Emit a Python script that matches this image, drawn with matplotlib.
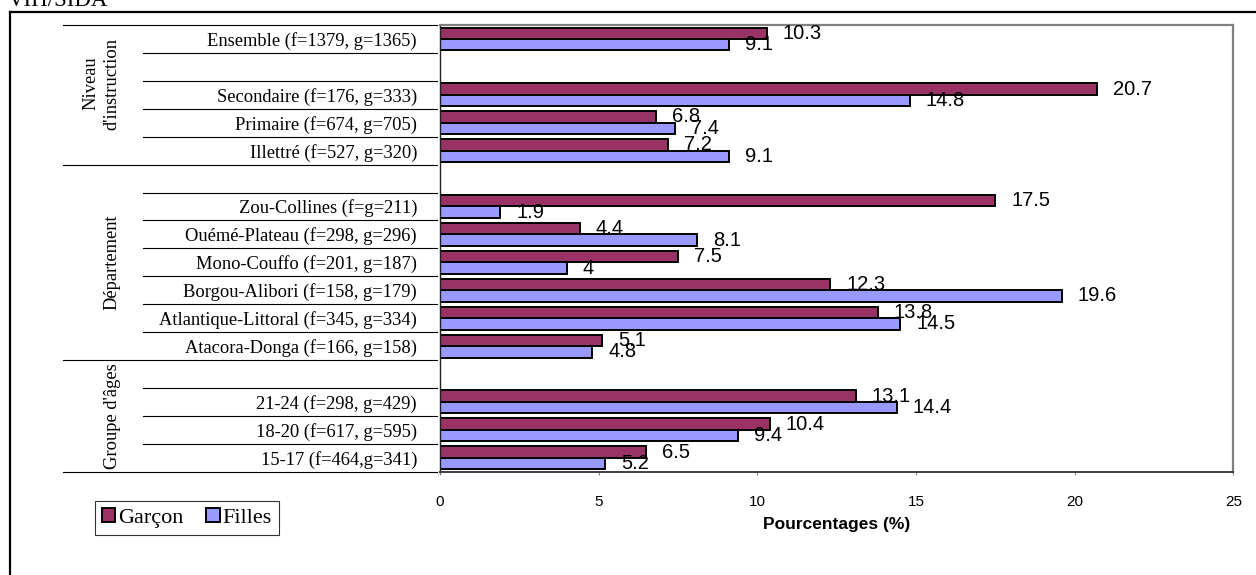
import matplotlib.pyplot as plt
import numpy as np
from matplotlib.patches import Patch
from matplotlib.lines import Line2D

# rows from top to bottom, '' = empty separator row
categories = ['Ensemble (f=1379, g=1365)', '', 'Secondaire (f=176, g=333)',
              'Primaire (f=674, g=705)', 'Illettré (f=527, g=320)', '',
              'Zou-Collines (f=g=211)', 'Ouémé-Plateau (f=298, g=296)',
              'Mono-Couffo (f=201, g=187)', 'Borgou-Alibori (f=158, g=179)',
              'Atlantique-Littoral (f=345, g=334)', 'Atacora-Donga (f=166, g=158)', '',
              '21-24 (f=298, g=429)', '18-20 (f=617, g=595)', '15-17 (f=464,g=341)']
garcon = [10.3, None, 20.7, 6.8, 7.2, None, 17.5, 4.4, 7.5, 12.3, 13.8, 5.1, None, 13.1, 10.4, 6.5]
filles = [9.1, None, 14.8, 7.4, 9.1, None, 1.9, 8.1, 4, 19.6, 14.5, 4.8, None, 14.4, 9.4, 5.2]
groups = ["Niveau\nd'instruction", 'Département', "Groupe d'âges"]
group_rows = [(0, 4), (5, 11), (12, 15)]  # first / last row of each group

W, H = 1256, 575
fig = plt.figure(figsize=(W / 100, H / 100), dpi=100)
ax = fig.add_axes([440 / W, 1 - 471.7 / H, 793.3 / W, 446.7 / H])

g = np.array([np.nan if v is None else v for v in garcon])
f = np.array([np.nan if v is None else v for v in filles])
y = np.arange(len(categories))
ok = ~np.isnan(g)

h = 0.41
bg = ax.barh(y[ok] - h / 2, g[ok], height=h, color='#993366', edgecolor='black', linewidth=1.4)
bf = ax.barh(y[ok] + h / 2, f[ok], height=h, color='#9999FF', edgecolor='black', linewidth=1.4)
for bars, vals in [(bg, g[ok]), (bf, f[ok])]:
    ax.bar_label(bars, labels=[f'{v:g}' for v in vals], padding=11.5,
                 fontsize=14.5, family='Liberation Sans')

ax.set_xlim(0, 25)
ax.set_ylim(len(categories) - 0.5, -0.5)
ax.set_xticks(np.arange(0, 26, 5))
ax.tick_params(axis='x', direction='out', length=2.5, pad=14, labelsize=11, color='#808080')
for t in ax.get_xticklabels():
    t.set_family('Liberation Sans')
ax.set_xlabel('Pourcentages (%)', fontsize=12.5, fontweight='bold', family='Liberation Sans', labelpad=6)

ax.set_yticks(y)
ax.set_yticklabels(categories, family='Liberation Serif', fontsize=13.3)
ax.tick_params(axis='y', length=0, pad=16.5)

for s in ['top', 'right']:
    ax.spines[s].set_color('#808080')
    ax.spines[s].set_linewidth(1.6)
ax.spines['left'].set_color('#202020')
ax.spines['left'].set_linewidth(1.0)
ax.spines['bottom'].set_color('#404040')
ax.spines['bottom'].set_linewidth(1.4)

# row separators and group brackets on the left
tr = ax.get_yaxis_transform()
starts = [a for a, b in group_rows]
for k in range(len(categories) + 1):
    long = k in starts or k == len(categories)
    x0 = -0.4752 if long else -0.3744
    ax.plot([x0, -0.0038], [k - 0.5, k - 0.5], transform=tr, color='black',
            linewidth=0.8, clip_on=False)

# group titles (the first one sits a bit above its block centre, as in the source)
shift = [-0.4, 0, 0]
for name, (a, b), xg, dy in zip(groups, group_rows, [-0.4273, -0.4134, -0.4134], shift):
    ax.text(xg, (a + b) / 2 + dy, name, transform=tr, rotation=90, ha='center', va='center',
            family='Liberation Serif', fontsize=13.3, linespacing=1.3)

# legend
handles = [Patch(facecolor='#993366', edgecolor='black', linewidth=1.4, label='Garçon'),
           Patch(facecolor='#9999FF', edgecolor='black', linewidth=1.4, label='Filles')]
leg = fig.legend(handles=handles, loc='center', bbox_to_anchor=(187 / W, 1 - 518 / H), ncol=2,
                 prop={'family': 'Liberation Serif', 'size': 16}, frameon=True, fancybox=False,
                 handlelength=0.6, handleheight=0.6, handletextpad=0.15, columnspacing=1.0,
                 borderpad=0.3, borderaxespad=0)
leg.get_frame().set_edgecolor('black')
leg.get_frame().set_linewidth(0.8)

# outer frame and cut title
fig.add_artist(Line2D([10 / W, 10 / W], [0, 1 - 12 / H], color='black', linewidth=1.6))
fig.add_artist(Line2D([10 / W, 1], [1 - 12 / H, 1 - 12 / H], color='black', linewidth=1.6))
fig.text(8 / W, 1 - 6 / H, 'VIH/SIDA', family='Liberation Serif', fontsize=16.5,
         ha='left', va='baseline')

fig.savefig('out.png', dpi=100)
